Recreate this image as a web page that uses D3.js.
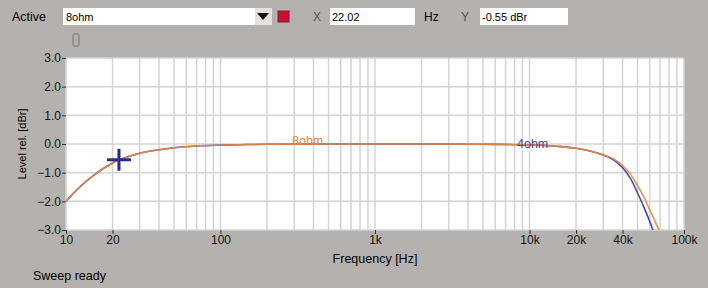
<!DOCTYPE html>
<html>
<head>
<meta charset="utf-8">
<script src="https://cdn.jsdelivr.net/npm/d3@7"></script>
<style>
  body { margin: 0; background: #b4b1ae; }
  svg { display: block; font-family: "Liberation Sans", Arial, sans-serif; }
</style>
</head>
<body>
<div id="container"></div>
<script>
"use strict";

// data
const freqs = [10, 12, 15, 20, 22, 25, 30, 40, 50, 70, 100, 150, 200, 500, 1000, 2000, 5000, 10000, 15000, 20000, 25000, 30000, 35000, 40000, 45000, 50000, 55000, 60000, 65000, 70000, 75000];
const level8 = [-2.0, -1.55, -1.1, -0.66, -0.55, -0.45, -0.32, -0.2, -0.13, -0.07, -0.04, -0.02, -0.01, 0, 0, 0, -0.01, -0.03, -0.08, -0.15, -0.25, -0.38, -0.52, -0.75, -1.05, -1.45, -1.85, -2.3, -2.7, -3.1, -3.5];
const level4 = [-2.0, -1.55, -1.1, -0.66, -0.55, -0.45, -0.32, -0.2, -0.13, -0.07, -0.04, -0.02, -0.01, 0, 0, 0, -0.01, -0.03, -0.08, -0.15, -0.25, -0.38, -0.55, -0.82, -1.2, -1.7, -2.2, -2.7, -3.2, -3.6, -4.0];
const xTicks = [10, 20, 100, 1000, 10000, 20000, 40000, 100000];
const xTickLabels = ["10", "20", "100", "1k", "10k", "20k", "40k", "100k"];
const yTicks = [3, 2, 1, 0, -1, -2, -3];
const cursor = {f: 22.02, v: -0.55};

const W = 708, H = 288;
const pL = 66, pR = 684, pT = 58, pB = 230;

const svg = d3.select("#container").append("svg")
    .attr("width", W).attr("height", H);

// SECTION: toolbar
svg.append("text").attr("x", 12).attr("y", 21).style("font-size", "12.5px").text("Active");
svg.append("rect").attr("x", 63).attr("y", 8).attr("width", 192).attr("height", 17).attr("fill", "#fff");
svg.append("text").attr("x", 66).attr("y", 21).style("font-size", "11px").text("8ohm");
svg.append("rect").attr("x", 255).attr("y", 8).attr("width", 17).attr("height", 17).attr("fill", "#e3e1df");
svg.append("path").attr("d", "M257,13 L269,13 L263,20 Z").attr("fill", "#111");
svg.append("rect").attr("x", 278).attr("y", 11).attr("width", 11).attr("height", 11)
    .attr("fill", "#cc1030").attr("stroke", "#7a2030");
svg.append("text").attr("x", 313).attr("y", 21).style("font-size", "12px").attr("fill", "#555").text("X");
svg.append("rect").attr("x", 330).attr("y", 8).attr("width", 85).attr("height", 17).attr("fill", "#fff");
svg.append("text").attr("x", 332).attr("y", 21).style("font-size", "11px").text("22.02");
svg.append("text").attr("x", 424).attr("y", 21).style("font-size", "12px").text("Hz");
svg.append("text").attr("x", 461).attr("y", 21).style("font-size", "12px").attr("fill", "#555").text("Y");
svg.append("rect").attr("x", 480).attr("y", 8).attr("width", 88).attr("height", 17).attr("fill", "#fff");
svg.append("text").attr("x", 482).attr("y", 21).style("font-size", "11px").text("-0.55 dBr");
svg.append("rect").attr("x", 73).attr("y", 34).attr("width", 6).attr("height", 12).attr("rx", 1)
    .attr("fill", "none").attr("stroke", "#777");

// SECTION: plot
const x = d3.scaleLog().domain([10, 100000]).range([pL, pR]);
const y = d3.scaleLinear().domain([-3, 3]).range([pB, pT]);

svg.append("rect").attr("x", pL).attr("y", pT).attr("width", pR - pL).attr("height", pB - pT).attr("fill", "#fff");

const gridF = [];
for (let d = 10; d < 100000; d *= 10) for (let m = 1; m < 10; m++) gridF.push(d * m);
gridF.push(100000);
svg.append("g").selectAll("line").data(gridF).enter().append("line")
    .attr("x1", d => x(d)).attr("x2", d => x(d)).attr("y1", pT).attr("y2", pB)
    .attr("stroke", "#d4d4d4").attr("stroke-width", 1.5);
svg.append("g").selectAll("line").data(yTicks).enter().append("line")
    .attr("x1", pL).attr("x2", pR).attr("y1", d => y(d)).attr("y2", d => y(d))
    .attr("stroke", "#d4d4d4").attr("stroke-width", 1.5);

// axes
const yAxis = svg.append("g").attr("transform", `translate(${pL},0)`)
    .call(d3.axisLeft(y).tickValues(yTicks).tickFormat(d3.format(".1f")).tickSize(4).tickPadding(1));
const xAxis = svg.append("g").attr("transform", `translate(0,${pB})`)
    .call(d3.axisBottom(x).tickValues(xTicks).tickFormat((d, i) => xTickLabels[i]).tickSize(4).tickPadding(1));
[yAxis, xAxis].forEach(g => {
  g.select(".domain").remove();
  g.selectAll("line").attr("stroke", "#333");
  g.selectAll("text").style("font-size", "12px").style("font-family", "Liberation Sans, Arial").attr("fill", "#111");
});

svg.append("text").attr("transform", `translate(26,${(pT + pB) / 2}) rotate(-90)`)
    .attr("text-anchor", "middle").style("font-size", "11px").text("Level rel. [dBr]");
svg.append("text").attr("x", x(1000)).attr("y", 263).attr("text-anchor", "middle")
    .style("font-size", "12.5px").text("Frequency [Hz]");
svg.append("text").attr("x", 33).attr("y", 280).style("font-size", "12.5px").text("Sweep ready");

// curves
svg.append("clipPath").attr("id", "clip").append("rect")
    .attr("x", pL).attr("y", pT).attr("width", pR - pL).attr("height", pB - pT);
const line = vals => d3.line().curve(d3.curveMonotoneX)
    .x((d, i) => x(freqs[i])).y((d, i) => y(vals[i]))(vals);
svg.append("path").attr("d", line(level4)).attr("clip-path", "url(#clip)")
    .attr("fill", "none").attr("stroke", "#4a4aa8").attr("stroke-width", 1.6);
svg.append("path").attr("d", line(level8)).attr("clip-path", "url(#clip)")
    .attr("fill", "none").attr("stroke", "#e8883e").attr("stroke-width", 1.6).attr("opacity", 0.9);

svg.append("text").attr("x", 292).attr("y", y(0) + 1).style("font-size", "12.5px").attr("fill", "#e0863c").text("8ohm");
svg.append("text").attr("x", 517).attr("y", y(0) + 4).style("font-size", "12.5px").attr("fill", "#4a4a98").text("4ohm");

// cursor cross
const cx = x(cursor.f), cy = y(cursor.v);
svg.append("line").attr("x1", cx - 12).attr("x2", cx + 12).attr("y1", cy).attr("y2", cy)
    .attr("stroke", "#2a2a88").attr("stroke-width", 3);
svg.append("line").attr("x1", cx).attr("x2", cx).attr("y1", cy - 11).attr("y2", cy + 11)
    .attr("stroke", "#2a2a88").attr("stroke-width", 3);
</script>
</body>
</html>
